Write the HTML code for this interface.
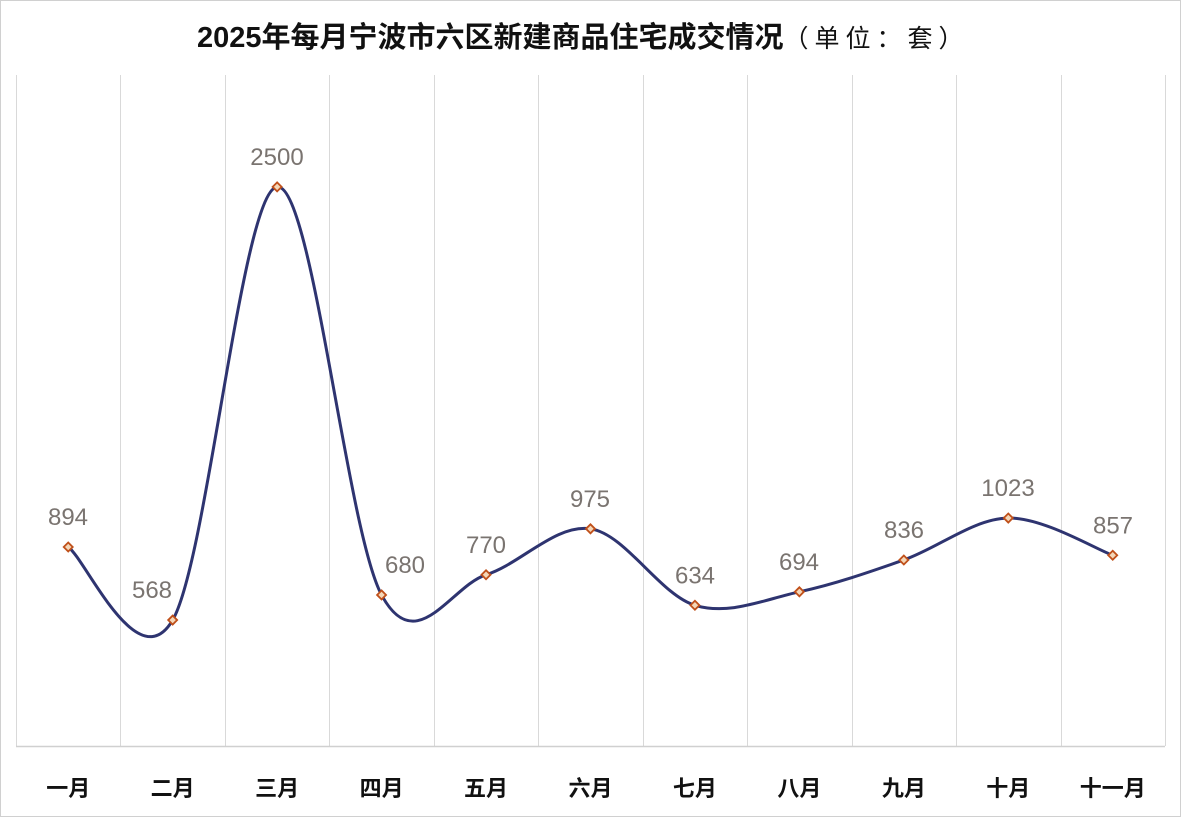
<!DOCTYPE html>
<html><head><meta charset="utf-8">
<style>
html,body{margin:0;padding:0;background:#fff;}
svg{display:block;}
</style></head>
<body>
<svg id="s" width="1181" height="817" xmlns="http://www.w3.org/2000/svg">
<rect x="0.5" y="0.5" width="1180" height="816" fill="#fff" stroke="#d0d0d0"/>
<text x="197" y="47" font-family="Liberation Sans, Noto Sans CJK SC, sans-serif" font-size="29" font-weight="bold" fill="#111">2025年每月宁波市六区新建商品住宅成交情况<tspan font-weight="normal" font-size="25" letter-spacing="6">（单位：套）</tspan></text>
<g id="grid" stroke="#d9d9d9" stroke-width="1"></g>
<line x1="16" y1="746.5" x2="1165" y2="746.5" stroke="#d0d0d0" stroke-width="1.5"/>
<path id="curve" fill="none" stroke="#2e3470" stroke-width="3"/>
<g id="marks"></g>
<g id="labels" font-family="Liberation Sans, sans-serif" font-size="24" fill="#7a7470" text-anchor="middle"></g>
<g id="cats" font-family="Liberation Sans, Noto Sans CJK SC, sans-serif" font-size="22" font-weight="bold" fill="#111" text-anchor="middle"></g>
</svg>
<script>
var vals=[894,568,2500,680,770,975,634,694,836,1023,857];
var names=["一月","二月","三月","四月","五月","六月","七月","八月","九月","十月","十一月"];
var lx=[68,152,277,405,486,590,695,799,904,1008,1113];
var w=104.45, x0=16, base=747.4, k=0.2242;
var P=vals.map(function(v,i){return [x0+w*(i+0.5), base-v*k];});
var ns="http://www.w3.org/2000/svg";
function el(t,a,p,txt){var e=document.createElementNS(ns,t);for(var n in a)e.setAttribute(n,a[n]);if(txt)e.textContent=txt;document.getElementById(p).appendChild(e);}
for(var i=1;i<=11;i++){var gx=Math.round(x0+w*i)+0.5;el("line",{x1:gx,y1:75,x2:gx,y2:746},"grid");}
el("line",{x1:16.5,y1:75,x2:16.5,y2:746},"grid");
var d="M"+P[0][0]+","+P[0][1];
for(var i=0;i<P.length-1;i++){
 var a=P[i-1]||P[i],b=P[i],c=P[i+1],e=P[i+2]||P[i+1];
 var c1=[b[0]+(c[0]-a[0])/6,b[1]+(c[1]-a[1])/6];
 var c2=[c[0]-(e[0]-b[0])/6,c[1]-(e[1]-b[1])/6];
 d+=" C"+c1+" "+c2+" "+c;
}
document.getElementById("curve").setAttribute("d",d);
P.forEach(function(p,i){
 el("path",{d:"M"+p[0]+","+(p[1]-4.5)+" L"+(p[0]+4.5)+","+p[1]+" L"+p[0]+","+(p[1]+4.5)+" L"+(p[0]-4.5)+","+p[1]+"Z",fill:"#f4d7b8",stroke:"#c0501a","stroke-width":1.8},"marks");
 el("text",{x:lx[i],y:p[1]-22},"labels",String(vals[i]));
 el("text",{x:p[0],y:796},"cats",names[i]);
});
</script>
</body></html>
